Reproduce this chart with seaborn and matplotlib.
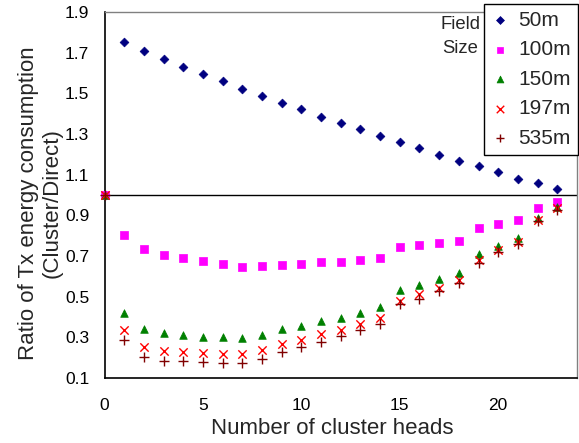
import pandas as pd
import matplotlib.pyplot as plt
import seaborn as sns

####################################
heads = list(range(0, 24))

r_50 = [1.0, 1.752, 1.708, 1.667, 1.631, 1.595, 1.559, 1.523, 1.485, 1.454, 1.423, 1.385,
        1.354, 1.323, 1.290, 1.262, 1.231, 1.198, 1.167, 1.144, 1.113, 1.080, 1.059, 1.031]
r_100 = [1.0, 0.802, 0.734, 0.706, 0.688, 0.675, 0.662, 0.647, 0.652, 0.657, 0.662, 0.670,
         0.670, 0.680, 0.688, 0.743, 0.752, 0.765, 0.775, 0.838, 0.857, 0.875, 0.937, 0.965]
r_150 = [1.0, 0.421, 0.341, 0.323, 0.313, 0.303, 0.300, 0.295, 0.313, 0.342, 0.356, 0.379,
         0.393, 0.421, 0.449, 0.531, 0.557, 0.585, 0.618, 0.711, 0.749, 0.787, 0.885, 0.939]
r_197 = [1.0, 0.336, 0.251, 0.231, 0.228, 0.224, 0.218, 0.219, 0.237, 0.265, 0.287, 0.315,
         0.334, 0.364, 0.395, 0.480, 0.513, 0.542, 0.580, 0.680, 0.729, 0.769, 0.877, 0.934]
r_535 = [1.0, 0.285, 0.205, 0.185, 0.182, 0.177, 0.173, 0.173, 0.195, 0.226, 0.252, 0.277,
         0.305, 0.334, 0.364, 0.462, 0.490, 0.529, 0.565, 0.667, 0.719, 0.760, 0.873, 0.926]

sizes = ['50m', '100m', '150m', '197m', '535m']
x_ticks = [0, 5, 10, 15, 20]
y_ticks = [0.1, 0.3, 0.5, 0.7, 0.9, 1.1, 1.3, 1.5, 1.7, 1.9]
####################################

df = pd.DataFrame({
    'n': heads * 5,
    'ratio': r_50 + r_100 + r_150 + r_197 + r_535,
    'size': [s for s in sizes for _ in heads],
})

colors = {'50m': '#000080', '100m': '#FF00FF', '150m': '#008000', '197m': '#FF0000', '535m': '#800000'}
markers = {'50m': 'D', '100m': 's', '150m': '^', '197m': 'x', '535m': '+'}
msize = {'50m': 20, '100m': 26, '150m': 30, '197m': 36, '535m': 48}

sns.set_theme(style='white')
plt.rcParams['font.family'] = ['Liberation Sans', 'DejaVu Sans']

fig = plt.figure(figsize=(5.79, 4.43), dpi=100)
ax = fig.add_axes([0.1805, 0.1467, 0.816, 0.8262])

ax.axhline(1.0, color='black', lw=1, zorder=1)

for s in sizes:
    sub = df[df['size'] == s]
    if markers[s] in ('x', '+'):
        sns.scatterplot(data=sub, x='n', y='ratio', ax=ax, color=colors[s], marker=markers[s],
                        s=msize[s], linewidth=1.0, label=s, clip_on=False, zorder=3)
    else:
        sns.scatterplot(data=sub, x='n', y='ratio', ax=ax, color=colors[s], marker=markers[s],
                        s=msize[s], edgecolor=colors[s], linewidth=0.5, label=s, clip_on=False, zorder=3)

ax.set_xlim(0, 24)
ax.set_ylim(0.1, 1.9)
ax.set_xticks(x_ticks)
ax.set_yticks(y_ticks)
ax.set_yticklabels([f'{v:.1f}' for v in y_ticks])
ax.tick_params(direction='in', length=6, width=1, colors='black', labelsize=12.5)
ax.tick_params(axis='y', pad=11)
ax.tick_params(axis='x', pad=14.5)

for side in ['left', 'bottom']:
    ax.spines[side].set_color('black')
    ax.spines[side].set_linewidth(1.2)
for side in ['top', 'right']:
    ax.spines[side].set_color('#808080')
    ax.spines[side].set_linewidth(1.0)

ax.set_xlabel('Number of cluster heads', fontsize=16)
ax.xaxis.set_label_coords(0.4825, -0.109)
ax.set_ylabel('Ratio of Tx energy consumption\n(Cluster/Direct)', fontsize=16)
ax.yaxis.set_label_coords(-0.088, 0.478)

ax.legend_.remove()
handles, labels = ax.get_legend_handles_labels()
leg = fig.legend(handles, labels, loc='upper right', bbox_to_anchor=(0.999, 0.992),
                 frameon=True, fancybox=False, edgecolor='black', fontsize=15,
                 handlelength=0.8, handletextpad=0.5, borderpad=0.35, labelspacing=0.5,
                 markerscale=0.9, borderaxespad=0)
leg.get_frame().set_linewidth(1.0)
leg.get_frame().set_alpha(1)

fig.text(0.795, 0.944, 'Field', ha='center', va='center', fontsize=13.3)
fig.text(0.795, 0.890, 'Size', ha='center', va='center', fontsize=13.3)

plt.savefig('out.png', dpi=100)
